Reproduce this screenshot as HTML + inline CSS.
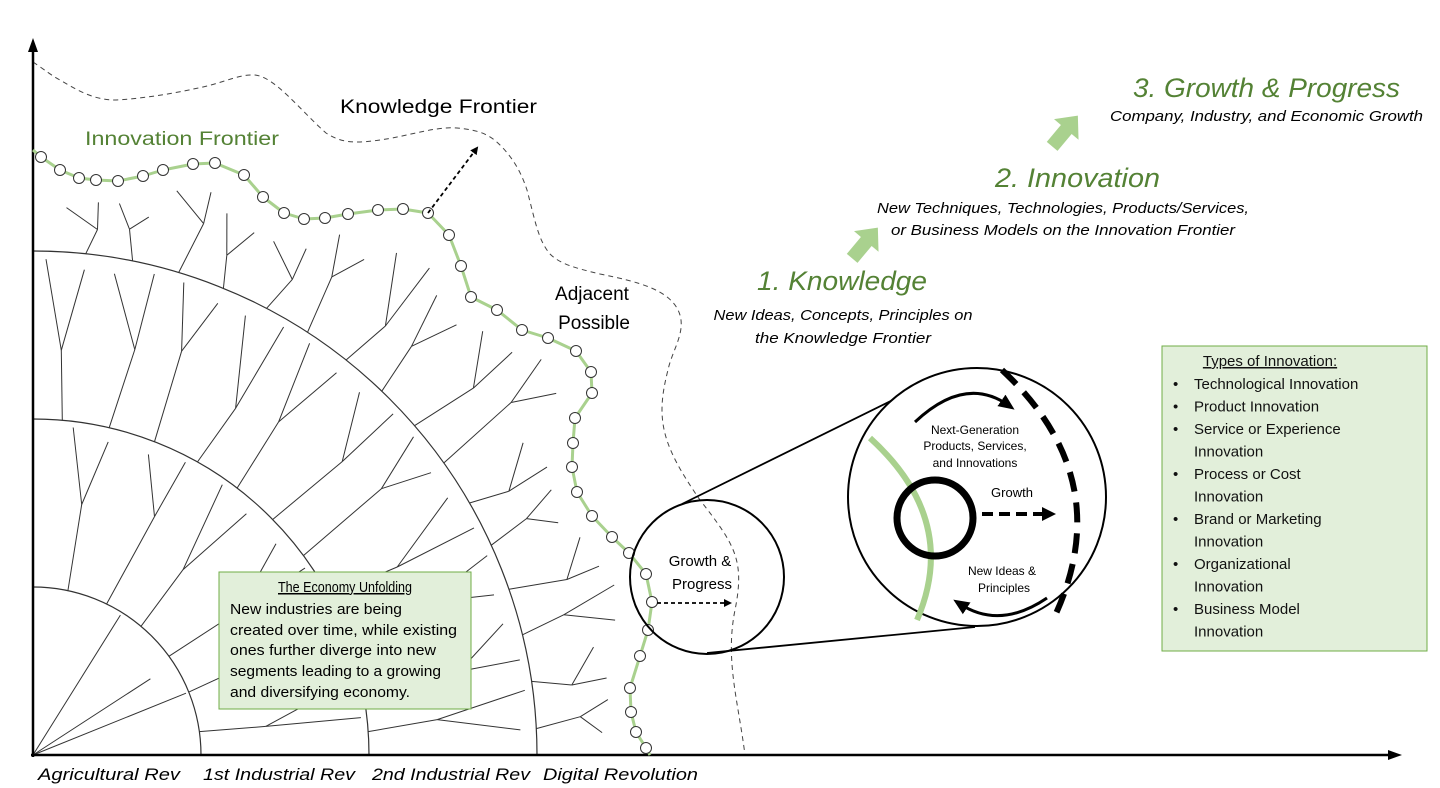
<!DOCTYPE html>
<html><head><meta charset="utf-8"><style>
html,body{margin:0;padding:0;background:#fff;width:1440px;height:788px;overflow:hidden}
svg{display:block}
text{font-family:"Liberation Sans",sans-serif}
</style></head><body>
<svg id="s" width="1440" height="788" viewBox="0 0 1440 788" xmlns="http://www.w3.org/2000/svg">
<defs>
<marker id="ah" markerWidth="8" markerHeight="8" refX="6" refY="4" orient="auto" markerUnits="userSpaceOnUse"><path d="M0,0 L8,4 L0,8 z" fill="#000"/></marker>
<marker id="ahb" markerWidth="14" markerHeight="14" refX="10" refY="7" orient="auto" markerUnits="userSpaceOnUse"><path d="M0,0 L14,7 L0,14 z" fill="#000"/></marker>
<marker id="ahc" markerWidth="16" markerHeight="16" refX="8" refY="8" orient="auto" markerUnits="userSpaceOnUse"><path d="M0,1 L16,8 L0,15 z" fill="#000"/></marker>
</defs>
<g id="branches" stroke="#333" stroke-width="1" fill="none"></g>
<g stroke="#333" stroke-width="1.2" fill="none">
<path d="M33,587 A168,168 0 0 1 201,755"/>
<path d="M33,419 A336,336 0 0 1 369,755"/>
<path d="M33,251 A504,504 0 0 1 537,755"/>
</g>
<path d="M33,62 C45,70 52,76 60,80 C80,92 95,100 116,100 C150,98 180,92 203,87 C225,82 240,74 255,75 C275,77 300,110 326,133 C340,142 350,142 360,142 C400,140 430,126 457,128 C480,130 490,135 500,145 C515,160 522,175 527,190 C535,220 538,240 550,254 C560,264 575,268 600,274 C640,282 668,290 678,310 C688,330 672,350 668,370 C655,420 662,445 700,500 C735,545 745,560 735,610 C725,660 738,700 745,755" fill="none" stroke="#444" stroke-width="1" stroke-dasharray="5,4"/>
<line x1="33" y1="757" x2="33" y2="48" stroke="#000" stroke-width="2.5"/>
<path d="M33,38 L28,52 L38,52 z"/>
<line x1="31" y1="755" x2="1390" y2="755" stroke="#000" stroke-width="2.5"/>
<path d="M1402,755 L1388,750 L1388,760 z"/>
<polyline id="gf" fill="none" stroke="#a9d18e" stroke-width="3" stroke-linejoin="round"/>
<g id="dots" fill="#fff" stroke="#333" stroke-width="1"></g>
<line x1="428" y1="213" x2="477" y2="148" stroke="#000" stroke-width="1.8" stroke-dasharray="4,3" marker-end="url(#ah)"/>
<text x="85" y="145" font-size="19" fill="#548235" textLength="194" lengthAdjust="spacingAndGlyphs">Innovation Frontier</text>
<text x="340" y="113" font-size="19" fill="#000" textLength="197" lengthAdjust="spacingAndGlyphs">Knowledge Frontier</text>
<text x="592" y="300" font-size="19" text-anchor="middle">Adjacent</text>
<text x="594" y="329" font-size="19" text-anchor="middle">Possible</text>
<g font-size="17" font-style="italic">
<text x="38" y="780" textLength="142" lengthAdjust="spacingAndGlyphs">Agricultural Rev</text>
<text x="203" y="780" textLength="152" lengthAdjust="spacingAndGlyphs">1st Industrial Rev</text>
<text x="372" y="780" textLength="158" lengthAdjust="spacingAndGlyphs">2nd Industrial Rev</text>
<text x="543" y="780" textLength="155" lengthAdjust="spacingAndGlyphs">Digital Revolution</text>
</g>
<rect x="219" y="572" width="252" height="137" fill="#e2efda" stroke="#70ad47" stroke-width="1"/>
<g font-size="15">
<text x="345" y="592" text-anchor="middle" text-decoration="underline" textLength="134" lengthAdjust="spacingAndGlyphs">The Economy Unfolding</text>
<text x="230" y="614" textLength="172" lengthAdjust="spacingAndGlyphs">New industries are being</text>
<text x="230" y="635" textLength="227" lengthAdjust="spacingAndGlyphs">created over time, while existing</text>
<text x="230" y="655" textLength="206" lengthAdjust="spacingAndGlyphs">ones further diverge into new</text>
<text x="230" y="676" textLength="211" lengthAdjust="spacingAndGlyphs">segments leading to a growing</text>
<text x="230" y="697" textLength="180" lengthAdjust="spacingAndGlyphs">and diversifying economy.</text>
</g>
<line x1="682" y1="504" x2="913" y2="390" stroke="#000" stroke-width="1.8"/>
<line x1="707" y1="653" x2="975" y2="627" stroke="#000" stroke-width="1.8"/>
<circle cx="707" cy="577" r="77" fill="none" stroke="#000" stroke-width="2"/>
<text x="700" y="566" font-size="15" text-anchor="middle">Growth &amp;</text>
<text x="702" y="589" font-size="15" text-anchor="middle">Progress</text>
<line x1="657" y1="603" x2="730" y2="603" stroke="#000" stroke-width="1.8" stroke-dasharray="4,3" marker-end="url(#ah)"/>
<circle cx="977" cy="497" r="129" fill="#fff" stroke="#000" stroke-width="2"/>
<path d="M870,438 Q960,520 917,620" fill="none" stroke="#a9d18e" stroke-width="6"/>
<circle cx="935" cy="518" r="38" fill="none" stroke="#000" stroke-width="7"/>
<path d="M1002,370 Q1120,480 1053,620" fill="none" stroke="#000" stroke-width="6" stroke-dasharray="20,11"/>
<path d="M915,422 Q965,375 1008,405" fill="none" stroke="#000" stroke-width="3" marker-end="url(#ahc)"/>
<path d="M1047,598 Q1000,630 960,604" fill="none" stroke="#000" stroke-width="3" marker-end="url(#ahc)"/>
<line x1="982" y1="514" x2="1052" y2="514" stroke="#000" stroke-width="4" stroke-dasharray="11,6" marker-end="url(#ahb)"/>
<g font-size="12" text-anchor="middle">
<text x="975" y="434">Next-Generation</text>
<text x="975" y="450">Products, Services,</text>
<text x="975" y="467">and Innovations</text>
<text x="1012" y="497" font-size="13">Growth</text>
<text x="1002" y="575">New Ideas &amp;</text>
<text x="1004" y="592">Principles</text>
</g>
<g font-style="italic">
<text x="1133" y="97" font-size="27" fill="#548235" textLength="267" lengthAdjust="spacingAndGlyphs">3. Growth &amp; Progress</text>
<text x="1110" y="121" font-size="15" textLength="313" lengthAdjust="spacingAndGlyphs">Company, Industry, and Economic Growth</text>
<text x="995" y="187" font-size="27" fill="#548235" textLength="165" lengthAdjust="spacingAndGlyphs">2. Innovation</text>
<text x="1063" y="213" font-size="15" text-anchor="middle" textLength="372" lengthAdjust="spacingAndGlyphs">New Techniques, Technologies, Products/Services,</text>
<text x="1063" y="235" font-size="15" text-anchor="middle" textLength="344" lengthAdjust="spacingAndGlyphs">or Business Models on the Innovation Frontier</text>
<text x="757" y="290" font-size="27" fill="#548235" textLength="170" lengthAdjust="spacingAndGlyphs">1. Knowledge</text>
<text x="843" y="320" font-size="15" text-anchor="middle" textLength="259" lengthAdjust="spacingAndGlyphs">New Ideas, Concepts, Principles on</text>
<text x="843" y="343" font-size="15" text-anchor="middle" textLength="176" lengthAdjust="spacingAndGlyphs">the Knowledge Frontier</text>
</g>
<g fill="#a9d18e">
<path transform="translate(865,243) rotate(-50)" d="M-20,-7 L2,-7 L2,-16 L20,0 L2,16 L2,7 L-20,7 z"/>
<path transform="translate(1065,131) rotate(-50)" d="M-20,-7 L2,-7 L2,-16 L20,0 L2,16 L2,7 L-20,7 z"/>
</g>
<rect x="1162" y="346" width="265" height="305" fill="#e2efda" stroke="#70ad47" stroke-width="1"/>
<g font-size="15" fill="#111">
<text x="1270" y="366" text-anchor="middle" text-decoration="underline">Types of Innovation:</text>
<g id="tb"></g>
</g>
</svg>
<script>
var NS="http://www.w3.org/2000/svg";
function el(p,t,a){var e=document.createElementNS(NS,t);for(var k in a)e.setAttribute(k,a[k]);p.appendChild(e);return e;}
var pts=[[41,157],[60,170],[79,178],[96,180],[118,181],[143,176],[163,170],[193,164],[215,163],[244,175],[263,197],[284,213],[304,219],[325,218],[348,214],[378,210],[403,209],[428,213],[449,235],[461,266],[471,297],[497,310],[522,330],[548,338],[576,351],[591,372],[592,393],[575,418],[573,443],[572,467],[577,492],[592,516],[612,537],[629,553],[646,574],[652,602],[648,630],[640,656],[630,688],[631,712],[636,732],[646,748]];
var gf=document.getElementById("gf");
gf.setAttribute("points",[[33,150]].concat(pts).concat([[650,755]]).map(function(p){return p.join(",")}).join(" "));
var d=document.getElementById("dots");
pts.forEach(function(p){el(d,"circle",{cx:p[0],cy:p[1],r:5.5});});
var g=document.getElementById("branches");
var cx=33,cy=755;
function P(r,a){a=a*Math.PI/180;return [cx+r*Math.cos(a),cy-r*Math.sin(a)];}
function line(a,b){el(g,"line",{x1:a[0].toFixed(1),y1:a[1].toFixed(1),x2:b[0].toFixed(1),y2:b[1].toFixed(1)});}
function branch(r0,r1,a,spread,seed){
  var rm=r0+(r1-r0)*(0.4+0.25*((seed*37)%10)/10);
  var s=P(r0,a),m=P(rm,a+(seed%2?1:-1));
  line(s,m);
  line(m,P(r1-4,a+(seed%2?spread:-spread*0.3)));
  line(m,P(r1-12,a-(seed%2?spread*0.3:-spread)));
}
line([cx,cy],P(165,22));line([cx,cy],P(165,58));line([cx,cy],P(140,33));
[8,22,36,50,64,78].forEach(function(a,i){branch(168,334,a,5,i);});
for(var i=0;i<11;i++){var a=4+i*8.1;branch(336,500,a,3.5,i+3);}
var fr=function(a){ // approximate frontier distance
  var best=9999;pts.forEach(function(p){var dx=p[0]-cx,dy=cy-p[1];var ang=Math.atan2(dy,dx)*180/Math.PI;if(Math.abs(ang-a)<3){var r=Math.sqrt(dx*dx+dy*dy);if(r<best)best=r;}});return best>2000?600:best;};
for(var i=0;i<16;i++){var a=3+i*5.4;branch(504,fr(a)-18,a,2.5,i+1);}
var tb=document.getElementById("tb");
var items=[["Technological Innovation"],["Product Innovation"],["Service or Experience","Innovation"],["Process or Cost","Innovation"],["Brand or Marketing","Innovation"],["Organizational","Innovation"],["Business Model","Innovation"]];
var y=389;
items.forEach(function(it){
  var b=el(tb,"text",{x:1173,y:y});b.textContent="\u2022";
  it.forEach(function(s){var t=el(tb,"text",{x:1194,y:y});t.textContent=s;y+=22.5;});
});
</script>
</body></html>
